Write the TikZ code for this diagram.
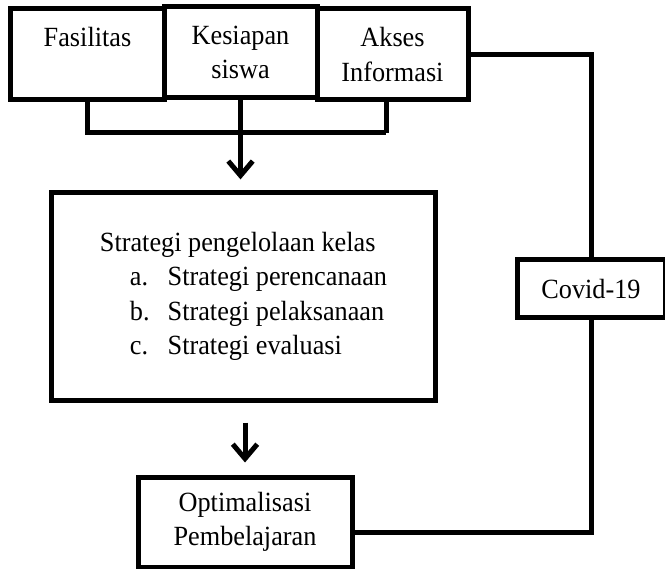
\documentclass[tikz,border=0pt]{standalone}
\usepackage{fontspec}
\setmainfont[FakeStretch=0.945]{Liberation Serif}
\usetikzlibrary{arrows.meta}

\begin{document}
\begin{tikzpicture}[x=0.45pt,y=-0.45pt,line width=2.25pt,
  box node/.style={rectangle,draw,align=center,inner sep=0pt,font=\fontsize{12.5}{15.5}\selectfont},
  arrow/.style={-{Straight Barb[length=6.5pt,width=11pt]}}]

  \useasboundingbox (0,0) rectangle (665,569);

  \node[box node,minimum width=68.85pt,minimum height=40.95pt] (fas) at (87.5,54.5) {Fasilitas\\ \mbox{}};
  \node[box node,minimum width=68.85pt,minimum height=40.95pt] (kes) at (240.5,52.5) {Kesiapan\\ siswa};
  \node[box node,minimum width=67.95pt,minimum height=40.95pt] (aks) at (392.5,54.5) {Akses\\ Informasi};

  \node[box node,align=left,minimum width=172.35pt,minimum height=93.15pt] (strat) at (243.5,296.5)
    {Strategi pengelolaan kelas\\
     \hspace*{13.5pt}\makebox[17pt][l]{a.}Strategi perencanaan\\
     \hspace*{13.5pt}\makebox[17pt][l]{b.}Strategi pelaksanaan\\
     \hspace*{13.5pt}\makebox[17pt][l]{c.}Strategi evaluasi};

  \node[box node,minimum width=96.3pt,minimum height=40.5pt] (opt) at (245,522) {Optimalisasi\\ Pembelajaran};
  \node[box node,fill=white,minimum width=66.6pt,minimum height=26.1pt] (cov) at (591,289) {Covid-19};

  % bracket under the three factors
  \coordinate (jr) at (386,133);
  \draw (fas.south) |- (jr);
  \draw (aks.south -| jr) -- (jr);
  \draw[arrow,shorten >=5pt] (kes.south) -- (kes.south |- strat.north);
  \draw[arrow,shorten <=9pt,shorten >=5.4pt] (strat.south -| opt.north) -- (opt.north);

  % covid loop
  \draw (aks.east) -| (cov.north);
  \draw (cov.south) |- ([yshift=-4.5pt]opt.east);
\end{tikzpicture}
\end{document}
